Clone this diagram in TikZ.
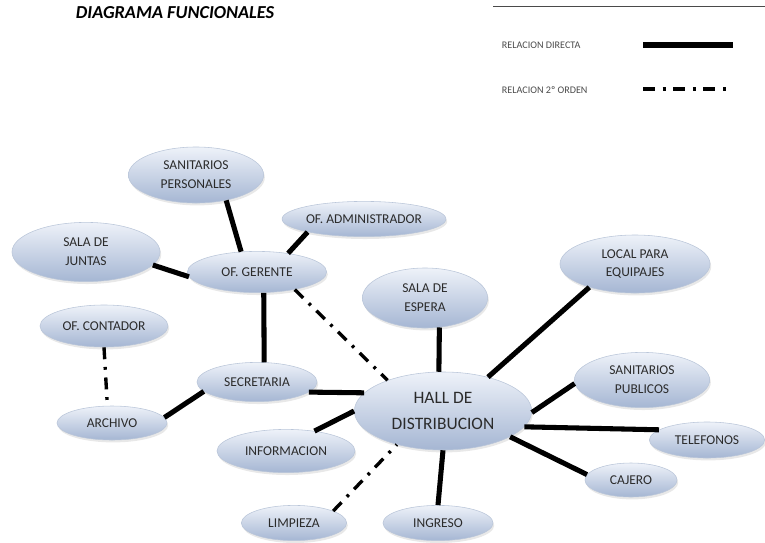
\documentclass[tikz,border=0pt]{standalone}
\usepackage{fontspec}
\setmainfont{Carlito}
\usetikzlibrary{shapes.geometric,shadows}
\definecolor{EllTop}{HTML}{EEF2F9}
\definecolor{EllBot}{HTML}{A5B6D3}
\definecolor{EllEdge}{HTML}{BAC6D9}
\definecolor{Ink}{HTML}{2B2B2B}
\definecolor{Muted}{HTML}{4A4A4A}
\tikzset{
 area/.style={ellipse, draw=EllEdge, line width=0.4pt, top color=EllTop, bottom color=EllBot,
  inner sep=0pt, align=center, text=Ink, font=\fontsize{9.6}{13.5}\selectfont,
  drop shadow={opacity=0.18, shadow xshift=0.03cm, shadow yshift=-0.06cm}},
 direct/.style={line width=3.6pt, draw=black},
 second/.style={line width=2.4pt, draw=black, dash pattern=on 8.5pt off 5.5pt on 2pt off 5.5pt}
}
\begin{document}
\begin{tikzpicture}[x=0.025cm, y=-0.025cm]
\useasboundingbox (0,0) rectangle (765,542);
% titulo y leyenda
\node[anchor=west, font=\fontsize{13}{15}\selectfont\bfseries\itshape, text=black] (title) at (71,13) {DIAGRAMA FUNCIONALES};
\coordinate (legA) at (493,6);
\coordinate (legB) at (765,6);
\draw[line width=0.6pt, draw=Muted] (legA) -- (legB);
\node[anchor=west, font=\fontsize{7.2}{8}\selectfont, text=Muted] (ldirect) at (497,45) {RELACION DIRECTA};
\node[anchor=west, font=\fontsize{7.2}{8}\selectfont, text=Muted] (lsecond) at (497,90) {RELACION 2º ORDEN};
\coordinate (d1) at (643,45);
\coordinate (d2) at (733,45);
\coordinate (s1) at (643,89);
\coordinate (s2) at (733,89);
\draw[direct] (d1) -- (d2);
\draw[second] (s1) -- (s2);
% areas
\node[area, minimum width=3.38cm, minimum height=1.4cm] (sanpers) at (196,175) {SANITARIOS\\PERSONALES};
\node[area, minimum width=4.05cm, minimum height=0.88cm] (admin) at (364,219) {OF. ADMINISTRADOR};
\node[area, minimum width=3.48cm, minimum height=1.03cm] (gerente) at (257,272) {OF. GERENTE};
\node[area, minimum width=3.7cm, minimum height=1.48cm] (juntas) at (86,252) {SALA DE\\JUNTAS};
\node[area, minimum width=3.2cm, minimum height=1.05cm] (contador) at (104,326) {OF. CONTADOR};
\node[area, minimum width=2.75cm, minimum height=0.85cm] (archivo) at (112,423) {ARCHIVO};
\node[area, minimum width=3.0cm, minimum height=0.98cm] (secretaria) at (257,382) {SECRETARIA};
\node[area, minimum width=4.43cm, minimum height=1.95cm, font=\fontsize{12.4}{18.5}\selectfont] (hall) at (443,411) {HALL DE\\DISTRIBUCION};
\node[area, minimum width=3.45cm, minimum height=1.08cm] (info) at (286,451) {INFORMACION};
\node[area, minimum width=2.63cm, minimum height=0.88cm] (limpieza) at (294,523) {LIMPIEZA};
\node[area, minimum width=2.75cm, minimum height=0.88cm] (ingreso) at (438,523) {INGRESO};
\node[area, minimum width=3.13cm, minimum height=1.5cm] (espera) at (425,298) {SALA DE\\ESPERA};
\node[area, minimum width=3.75cm, minimum height=1.45cm] (local) at (635,264) {LOCAL PARA\\EQUIPAJES};
\node[area, minimum width=3.38cm, minimum height=1.38cm] (sanpub) at (642,380) {SANITARIOS\\PUBLICOS};
\node[area, minimum width=2.88cm, minimum height=0.9cm] (telefonos) at (707,440) {TELEFONOS};
\node[area, minimum width=2.3cm, minimum height=0.85cm] (cajero) at (631,480) {CAJERO};
% relaciones
\draw[direct] (sanpers.-40) -- (gerente.128);
\draw[direct] (admin.-167) -- (gerente.31);
\draw[direct] (juntas.-11) -- (gerente.184);
\draw[direct] (gerente.-72) -- (secretaria.70);
\draw[second] (gerente.-25) -- (hall.151);
\draw[second] (contador.south) -- (archivo.105);
\draw[direct] (archivo.6) -- (secretaria.190);
\draw[direct] (secretaria.-11) -- (hall.167);
\draw[direct] (info.35) -- (hall.180);
\draw[second] (limpieza.17) -- (hall.-144);
\draw[direct] (ingreso.north) -- (hall.south);
\draw[direct] (espera.-64) -- (hall.96);
\draw[direct] (local.-153) -- (hall.37);
\draw[direct] (sanpub.183) -- (hall.-1);
\draw[direct] (hall.-11) -- (telefonos.168);
\draw[direct] (hall.-21) -- (cajero.173);
\end{tikzpicture}
\end{document}
